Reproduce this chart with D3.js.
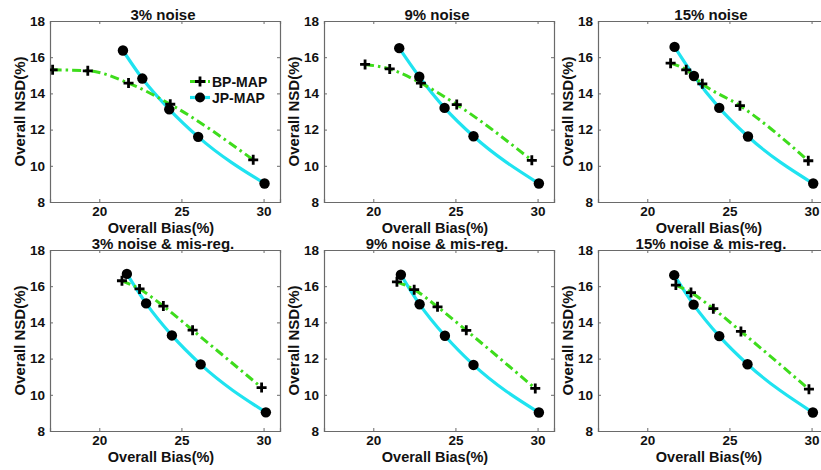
<!DOCTYPE html>
<html>
<head>
<meta charset="utf-8">
<script src="https://cdn.jsdelivr.net/npm/d3@7"></script>
<style>
  html, body { margin: 0; padding: 0; background: #fff; }
  svg { display: block; font-family: "Liberation Sans", Arial, sans-serif; font-weight: bold; }
</style>
</head>
<body>
<svg id="chart" width="821" height="470"></svg>
<script>
// ---- data ----
const panelTitles = ["3% noise", "9% noise", "15% noise",
                     "3% noise & mis-reg.", "9% noise & mis-reg.", "15% noise & mis-reg."];
const seriesNames = ["BP-MAP", "JP-MAP"];
const xTicks = [20, 25, 30];
const yTicks = [8, 10, 12, 14, 16, 18];
const xDomain = [17, 31];
const yDomain = [8, 18];

// BP-MAP: [bias, NSD]
const bp1 = [[17.16,15.3],[19.3,15.25],[21.78,14.57],[24.32,13.4],[29.37,10.33]];
const bp2 = [[19.5,15.6],[21.0,15.35],[22.9,14.57],[25.08,13.38],[29.65,10.3]];
const bp3 = [[21.42,15.67],[22.37,15.3],[23.35,14.53],[25.64,13.32],[29.8,10.28]];
const bp4 = [[21.38,16.3],[22.45,15.85],[23.9,14.9],[25.68,13.57],[29.88,10.4]];
const bp5 = [[21.44,16.24],[22.49,15.81],[23.91,14.86],[25.66,13.56],[29.86,10.35]];
const bp6 = [[21.74,16.06],[22.66,15.65],[24.02,14.76],[25.7,13.5],[29.84,10.31]];
// JP-MAP
const jp1 = [[21.44,16.37],[22.62,14.82],[24.26,13.12],[26.02,11.6],[30.06,9.02]];
const jp2 = [[21.58,16.5],[22.8,14.92],[24.34,13.2],[26.1,11.63],[30.08,9.02]];
const jp3 = [[21.66,16.57],[22.84,14.96],[24.38,13.2],[26.13,11.62],[30.1,9.02]];
const jp4 = [[21.68,16.68],[22.85,15.05],[24.42,13.28],[26.17,11.68],[30.14,9.03]];
const jp5 = [[21.68,16.63],[22.82,15.0],[24.36,13.26],[26.1,11.65],[30.08,9.02]];
const jp6 = [[21.64,16.61],[22.82,14.98],[24.38,13.24],[26.1,11.69],[30.08,9.02]];

const bpSeries = [bp1, bp2, bp3, bp4, bp5, bp6];
const jpSeries = [jp1, jp2, jp3, jp4, jp5, jp6];

// ---- layout ----
const panelLefts = [50, 324, 598];
const panelTops = [21, 250];
const plotW = 230, plotH = 181;
const bpColor = "#3edc1c";
const jpColor = "#1fe3f0";
const axisColor = "#6a6a6a";

const svg = d3.select("#chart");

panelTitles.forEach((title, i) => {
  const col = i % 3, row = Math.floor(i / 3);
  const g = svg.append("g")
    .attr("transform", `translate(${panelLefts[col]},${panelTops[row]})`);

  const x = d3.scaleLinear().domain(xDomain).range([0, plotW]);
  const y = d3.scaleLinear().domain(yDomain).range([plotH, 0]);

  // axes (MATLAB-like: inward ticks, box)
  const xAxis = g.append("g").attr("transform", `translate(0,${plotH})`)
    .call(d3.axisBottom(x).tickValues(xTicks).tickSize(-3).tickPadding(4).tickFormat(d3.format("d")));
  const xTop = g.append("g")
    .call(d3.axisTop(x).tickValues(xTicks).tickSize(-3).tickFormat(""));
  const yAxis = g.append("g")
    .call(d3.axisLeft(y).tickValues(yTicks).tickSize(-3).tickPadding(5).tickFormat(d3.format("d")));
  const yRight = g.append("g").attr("transform", `translate(${plotW},0)`)
    .call(d3.axisRight(y).tickValues(yTicks).tickSize(-3).tickFormat(""));

  [xAxis, xTop, yAxis, yRight].forEach(a => {
    a.selectAll(".domain").attr("stroke", axisColor).attr("stroke-width", 1.2);
    a.selectAll(".tick line").attr("stroke", axisColor);
    a.selectAll(".tick text").attr("fill", "#111").style("font-size", "13.5px")
      .style("font-weight", "bold").style("font-family", "'Liberation Sans', Arial, sans-serif");
  });

  const clipId = "clip" + i;
  g.append("clipPath").attr("id", clipId)
    .append("rect").attr("x", 0).attr("y", 0).attr("width", plotW).attr("height", plotH);

  const line = d3.line().x(d => x(d[0])).y(d => y(d[1])).curve(d3.curveMonotoneX);
  const plot = g.append("g").attr("clip-path", `url(#${clipId})`);

  // JP-MAP line
  plot.append("path").datum(jpSeries[i])
    .attr("d", line).attr("fill", "none")
    .attr("stroke", jpColor).attr("stroke-width", 3.2);
  // BP-MAP line
  plot.append("path").datum(bpSeries[i])
    .attr("d", line).attr("fill", "none")
    .attr("stroke", bpColor).attr("stroke-width", 3)
    .attr("stroke-dasharray", "9,4,2.5,4");

  // JP markers
  plot.selectAll(".jp").data(jpSeries[i]).join("circle")
    .attr("cx", d => x(d[0])).attr("cy", d => y(d[1])).attr("r", 5.2)
    .attr("fill", "#000");
  // BP markers (plus)
  plot.selectAll(".bp").data(bpSeries[i]).join("path")
    .attr("d", d => {
      const cx = x(d[0]), cy = y(d[1]), s = 5;
      return `M${cx - s},${cy}H${cx + s}M${cx},${cy - s}V${cy + s}`;
    })
    .attr("stroke", "#000").attr("stroke-width", 2.8).attr("fill", "none");

  // title
  g.append("text").attr("x", plotW / 2 - 2).attr("y", -1.5)
    .attr("text-anchor", "middle").style("font-size", "15px").attr("fill", "#111")
    .text(title);
  // x label
  g.append("text").attr("x", plotW / 2 - 4).attr("y", plotH + 30.5)
    .attr("text-anchor", "middle").style("font-size", "14.5px").attr("fill", "#111")
    .text("Overall Bias(%)");
  // y label
  g.append("text")
    .attr("transform", `translate(-25,${plotH / 2}) rotate(-90)`)
    .attr("text-anchor", "middle").style("font-size", "15px").attr("fill", "#111")
    .text("Overall NSD(%)");

  // legend only in first panel
  if (i === 0) {
    const lg = g.append("g").attr("transform", "translate(140,60.5)");
    seriesNames.forEach((name, k) => {
      const yy = k * 16;
      const row = lg.append("g").attr("transform", `translate(0,${yy})`);
      if (k === 0) {
        row.append("line").attr("x1", 0).attr("x2", 20).attr("y1", 0).attr("y2", 0)
          .attr("stroke", bpColor).attr("stroke-width", 3).attr("stroke-dasharray", "5,2,2,2");
        row.append("path").attr("d", "M5,0H15M10,-5V5")
          .attr("stroke", "#000").attr("stroke-width", 2.8);
      } else {
        row.append("line").attr("x1", 0).attr("x2", 20).attr("y1", 0).attr("y2", 0)
          .attr("stroke", jpColor).attr("stroke-width", 3.2);
        row.append("circle").attr("cx", 10).attr("cy", 0).attr("r", 5).attr("fill", "#000");
      }
      row.append("text").attr("x", 22).attr("y", 5)
        .style("font-size", "14px").attr("fill", "#111").text(name);
    });
  }
});
</script>
</body>
</html>
